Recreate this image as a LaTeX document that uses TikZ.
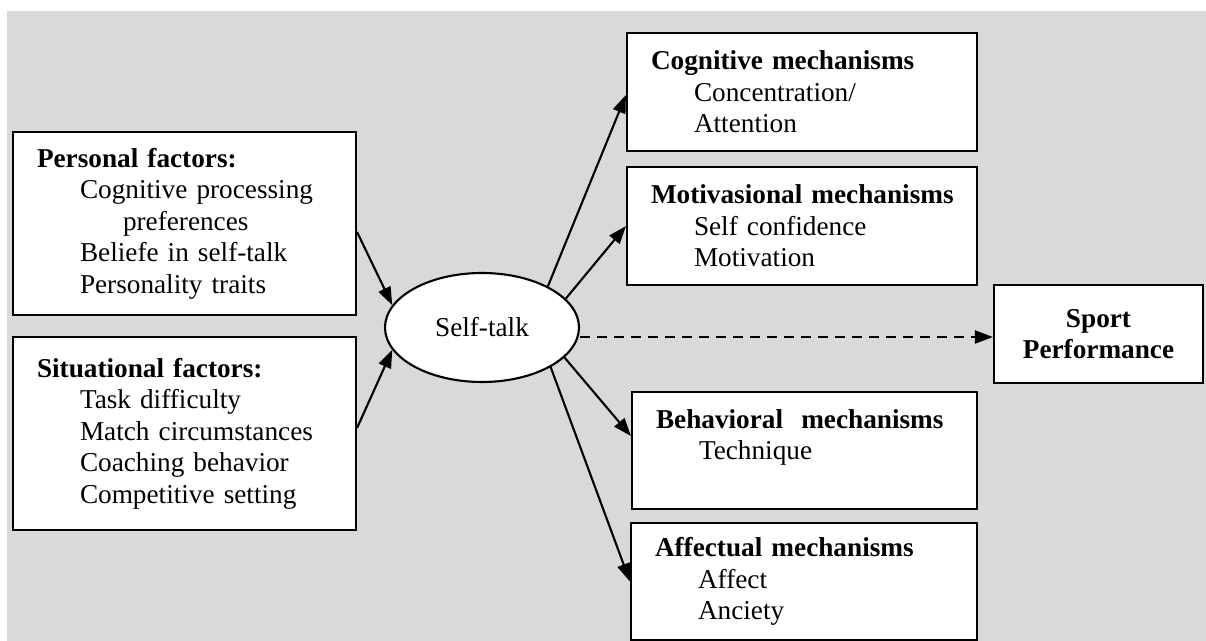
\documentclass[tikz,border=0pt]{standalone}
\usepackage{fontspec}
\setmainfont{Liberation Serif}
\usetikzlibrary{arrows.meta,shapes.geometric}
\definecolor{bggray}{RGB}{217,217,217}
\newcommand{\itemind}{\hspace*{0.86cm}}
\newcommand{\boxhead}[1]{\mbox{\textbf{#1}}}
\tikzset{
  box/.style={draw,line width=1.2pt,fill=white,align=left,inner xsep=0.48cm,inner ysep=0pt,
    font=\fontsize{15.5}{17.9}\selectfont},
  arr/.style={line width=1.2pt,-{Triangle[length=0.36cm,width=0.26cm]}},
}
\begin{document}
\begin{tikzpicture}
\useasboundingbox (0,0) rectangle (24.12,12.82);
\fill[bggray] (0.14,0) rectangle (24.12,12.6);
% factors
\node[box,text width=5.9cm,minimum height=3.66cm] (pers) at (3.69,8.35)
  {\boxhead{Personal factors:}\\ \itemind Cognitive processing\\ \itemind\itemind preferences\\
   \itemind Beliefe in self-talk\\ \itemind Personality traits};
\node[box,text width=5.9cm,minimum height=3.86cm] (situ) at (3.69,4.15)
  {\boxhead{Situational factors:}\\ \itemind Task difficulty\\ \itemind Match circumstances\\
   \itemind Coaching behavior\\ \itemind Competitive setting};
\node[draw,line width=1.2pt,fill=white,ellipse,minimum width=3.88cm,minimum height=2.18cm,inner sep=0pt,
  font=\fontsize{15.5}{17.9}\selectfont] (st) at (9.64,6.27) {Self-talk};
% mechanisms
\node[box,text width=6.04cm,minimum height=2.36cm] (cog) at (16.04,10.98)
  {\boxhead{Cognitive mechanisms}\\ \itemind Concentration/\\ \itemind Attention};
\node[box,text width=6.04cm,minimum height=2.36cm] (mot) at (16.04,8.30)
  {\boxhead{Motivasional mechanisms}\\ \itemind Self confidence\\ \itemind Motivation};
\node[box,text width=5.94cm,minimum height=2.34cm] (beh) at (16.09,3.81)
  {\boxhead{Behavioral~~mechanisms}\\ \itemind Technique\\ \mbox{}};
\node[box,text width=5.96cm,minimum height=2.34cm] (aff) at (16.08,1.19)
  {\boxhead{Affectual mechanisms}\\ \itemind Affect\\ \itemind Anciety};
\node[box,align=center,inner xsep=0pt,minimum width=4.18cm,minimum height=1.96cm] (sp) at (21.97,6.14)
  {\textbf{Sport}\\ \textbf{Performance}};
\coordinate (dend) at ([yshift=-0.06cm]sp.west);
% arrows
\draw[arr] ([yshift=-0.17cm]pers.east) -- (st.166);
\draw[arr] ([yshift=0.11cm]situ.east) -- (st.194);
\draw[arr] (st.32) -- ([yshift=-0.06cm]cog.west);
\draw[arr] (st.19) -- (mot.west);
\draw[arr] (st.-20) -- ([yshift=0.29cm]beh.west);
\draw[arr] (st.-30) -- (aff.west);
\draw[arr,dash pattern=on 0.2cm off 0.14cm] (st.east |- dend) -- (dend);
\end{tikzpicture}
\end{document}
